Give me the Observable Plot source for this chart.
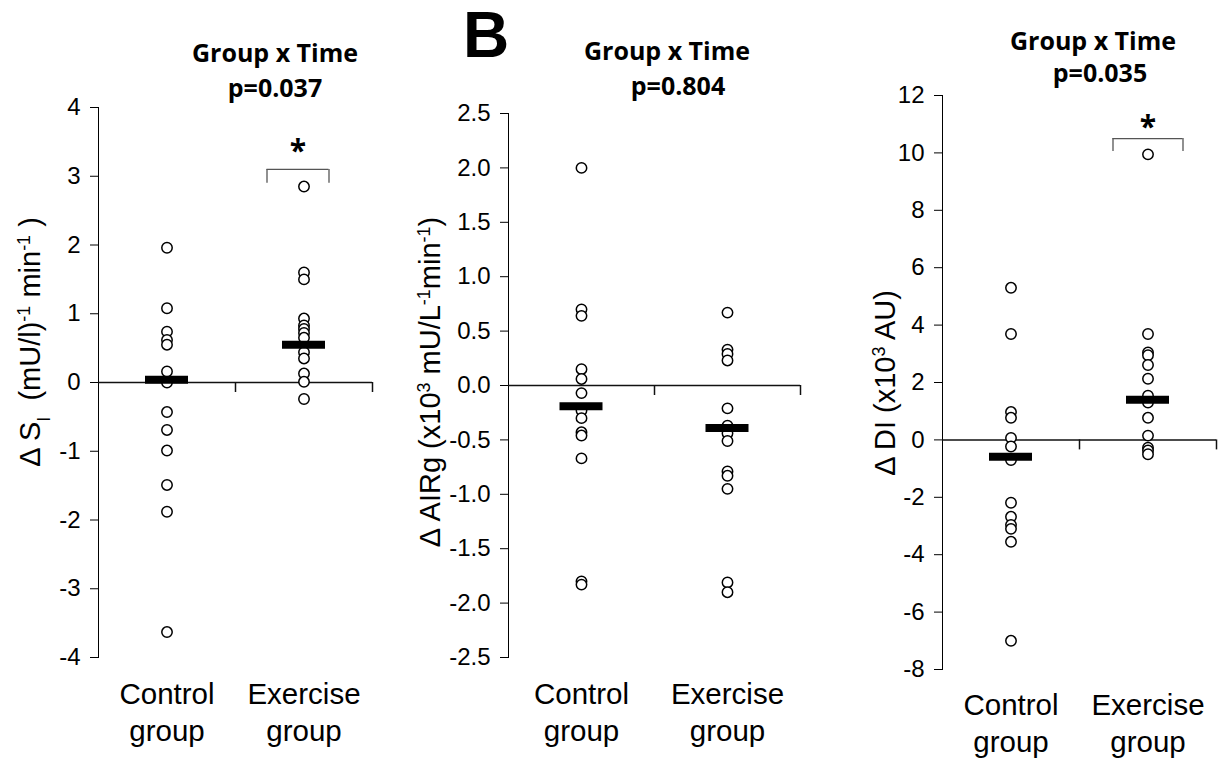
<!DOCTYPE html>
<html><head><meta charset="utf-8">
<script src="https://cdn.jsdelivr.net/npm/d3@7"></script>
<script src="https://cdn.jsdelivr.net/npm/@observablehq/plot@0.6"></script>
<style>
html,body{margin:0;padding:0;background:#fff;}
#root{position:relative;width:1224px;height:762px;overflow:hidden;background:#fff;}
#root svg{position:absolute;top:0;}
</style></head><body><div id="root"></div>
<script>
// ---------- data ----------
const groups = ["Control group", "Exercise group"];
const groupLabels = ["Control\ngroup", "Exercise\ngroup"];

// Panel A: Δ SI
const siControl  = [1.96, 1.08, 0.74, 0.62, 0.55, 0.16, 0.00, -0.43, -0.69, -0.99, -1.49, -1.88, -3.63];
const siExercise = [2.85, 1.60, 1.50, 0.93, 0.83, 0.78, 0.72, 0.65, 0.44, 0.35, 0.13, 0.01, -0.24];
const siMeans = [0.04, 0.55];
const siTicks = [-4, -3, -2, -1, 0, 1, 2, 3, 4];

// Panel B: Δ AIRg
const airControl  = [2.00, 0.70, 0.64, 0.15, 0.06, -0.07, -0.23, -0.30, -0.43, -0.46, -0.67, -1.80, -1.83];
const airExercise = [0.67, 0.33, 0.29, 0.23, -0.21, -0.37, -0.44, -0.51, -0.79, -0.83, -0.95, -1.81, -1.90];
const airMeans = [-0.19, -0.39];
const airTicks = [-2.5, -2.0, -1.5, -1.0, -0.5, 0.0, 0.5, 1.0, 1.5, 2.0, 2.5];

// Panel C: Δ DI
const diControl  = [5.30, 3.69, 0.97, 0.77, 0.07, -0.23, -0.70, -2.19, -2.68, -2.96, -3.10, -3.55, -7.00];
const diExercise = [9.95, 3.69, 3.05, 2.95, 2.61, 2.13, 1.54, 1.30, 0.77, 0.15, -0.27, -0.37, -0.50];
const diMeans = [-0.59, 1.40];
const diTicks = [-8, -6, -4, -2, 0, 2, 4, 6, 8, 10, 12];

const titleText = "Group x Time";
const pValues = ["p=0.037", "p=0.804", "p=0.035"];
// significance brackets (value units): bottom, top, star position
const siSig = {group: "Exercise group", bottom: 2.90, top: 3.10, star: 3.36};
const diSig = {group: "Exercise group", bottom: 10.05, top: 10.50, star: 10.90};

// ---------- helpers ----------
const root = document.getElementById("root");
const FONT = "'Liberation Sans', Arial, sans-serif";

function rows(ctrl, exer) {
  return ctrl.map(v => ({group: groups[0], value: v}))
    .concat(exer.map(v => ({group: groups[1], value: v})));
}

function yTitle(svg, x, y, parts, size) {
  const t = d3.select(svg).append("text")
    .attr("transform", `translate(${x},${y}) rotate(-90)`)
    .attr("text-anchor", "middle")
    .attr("font-family", FONT)
    .attr("font-size", size)
    .attr("fill", "#000");
  for (const [s, kind] of parts) {
    const ts = t.append("tspan").text(s);
    if (kind === "sup") ts.attr("baseline-shift", "super").attr("font-size", size * 0.62);
    if (kind === "sub") ts.attr("baseline-shift", "sub").attr("font-size", size * 0.62);
  }
}

function panel(cfg) {
  const {left, width, mt, mb, ml, mr, domain, ticks, fmt, ctrl, exer, means, sig, labelDy, ytitle} = cfg;
  const height = 762;
  const bw = (width - ml - mr) / 2;
  const barW = 43;
  const marks = [
    Plot.ruleY([0], {stroke: "#111", strokeWidth: 1.5}),
    Plot.ruleX(groups, {x: d => d, y1: 0, y2: 0, dx: bw / 2, insetBottom: -10, stroke: "#111", strokeWidth: 1.5}),
    Plot.dot(rows(ctrl, exer), {x: "group", y: "value", r: 5.2, fill: "white", stroke: "#000", strokeWidth: 1.5}),
    Plot.tickY(groups.map((g, i) => ({group: g, value: means[i]})),
      {x: "group", y: "value", stroke: "#000", strokeWidth: 8, insetLeft: (bw - barW) / 2, insetRight: (bw - barW) / 2}),
    Plot.text(groups, {x: d => d, text: (d, i) => groupLabels[i], frameAnchor: "bottom", lineAnchor: "top",
      dy: labelDy, fontSize: 29.5, lineHeight: 1.24, fill: "#000"})
  ];
  if (sig) {
    const hw = sig.hw, s = sig.shift;
    marks.push(
      Plot.tickY([sig], {x: "group", y: "top", stroke: "#555", strokeWidth: 1.3,
        insetLeft: bw / 2 - hw + s, insetRight: bw / 2 - hw - s}),
      Plot.ruleX([sig], {x: "group", y1: "bottom", y2: "top", dx: -hw + s, stroke: "#555", strokeWidth: 1.3}),
      Plot.ruleX([sig], {x: "group", y1: "bottom", y2: "top", dx: hw + s, stroke: "#555", strokeWidth: 1.3}),
      Plot.text([sig], {x: "group", y: "star", text: () => "*", dx: s, fontSize: 30, fontWeight: "bold",
        fontFamily: "'Open Sans', sans-serif", fill: "#000"})
    );
  }
  const svg = Plot.plot({
    width, height,
    marginTop: mt, marginBottom: mb, marginLeft: ml, marginRight: mr,
    style: {fontFamily: FONT, fontSize: "24px", color: "#000", background: "transparent", overflow: "visible"},
    x: {domain: groups, padding: 0, axis: null},
    y: {domain, ticks, tickFormat: fmt, tickSize: 8, tickPadding: 10, label: null, line: true},
    marks
  });
  svg.style.left = left + "px";
  root.appendChild(svg);
  yTitle(svg, ytitle.x, ytitle.y, ytitle.parts, 29);
  return svg;
}

// ---------- panels ----------
panel({
  left: 0, width: 400, mt: 107, mb: 105, ml: 98, mr: 28,
  domain: [-4, 4], ticks: siTicks, fmt: d => String(d),
  ctrl: siControl, exer: siExercise, means: siMeans,
  sig: Object.assign({hw: 31, shift: -6}, siSig), labelDy: 21,
  ytitle: {x: 40, y: 342, parts: [["Δ S"], ["I", "sub"], ["  (mU/l)"], ["-1", "sup"], [" min"], ["-1", "sup"], [" )"]]}
});

panel({
  left: 400, width: 410, mt: 113, mb: 105, ml: 108, mr: 10,
  domain: [-2.5, 2.5], ticks: airTicks, fmt: d => d.toFixed(1),
  ctrl: airControl, exer: airExercise, means: airMeans,
  sig: null, labelDy: 21,
  ytitle: {x: 40, y: 382, parts: [["Δ AIRg (x10"], ["3", "sup"], [" mU/L"], ["-1", "sup"], ["min"], ["-1", "sup"], [")"]]}
});

panel({
  left: 820, width: 404, mt: 95, mb: 93, ml: 122, mr: 8,
  domain: [-8, 12], ticks: diTicks, fmt: d => String(d),
  ctrl: diControl, exer: diExercise, means: diMeans,
  sig: Object.assign({hw: 35, shift: 0}, diSig), labelDy: 20,
  ytitle: {x: 75, y: 383, parts: [["Δ DI (x10"], ["3", "sup"], [" AU)"]]}
});

// ---------- titles overlay ----------
const ov = d3.select(root).append("svg")
  .attr("width", 1224).attr("height", 762)
  .style("left", "0px").style("pointer-events", "none");
const titlePos = [
  {x: 275, y1: 62, px: 275, y2: 97},
  {x: 667, y1: 60, px: 678, y2: 95},
  {x: 1093, y1: 50, px: 1100, y2: 82}
];
titlePos.forEach((p, i) => {
  ov.append("text").attr("x", p.x).attr("y", p.y1).attr("text-anchor", "middle")
    .attr("font-family", "'Open Sans', sans-serif").attr("font-weight", "bold").attr("font-size", 25)
    .attr("fill", "#000").text(titleText);
  ov.append("text").attr("x", p.px).attr("y", p.y2).attr("text-anchor", "middle")
    .attr("font-family", "'Open Sans', sans-serif").attr("font-weight", "bold").attr("font-size", 25)
    .attr("fill", "#000").text(pValues[i]);
});
ov.append("text").attr("x", 486).attr("y", 57).attr("text-anchor", "middle")
  .attr("font-family", FONT).attr("font-weight", "bold").attr("font-size", 64)
  .attr("fill", "#000").text("B");
</script>
</body></html>
